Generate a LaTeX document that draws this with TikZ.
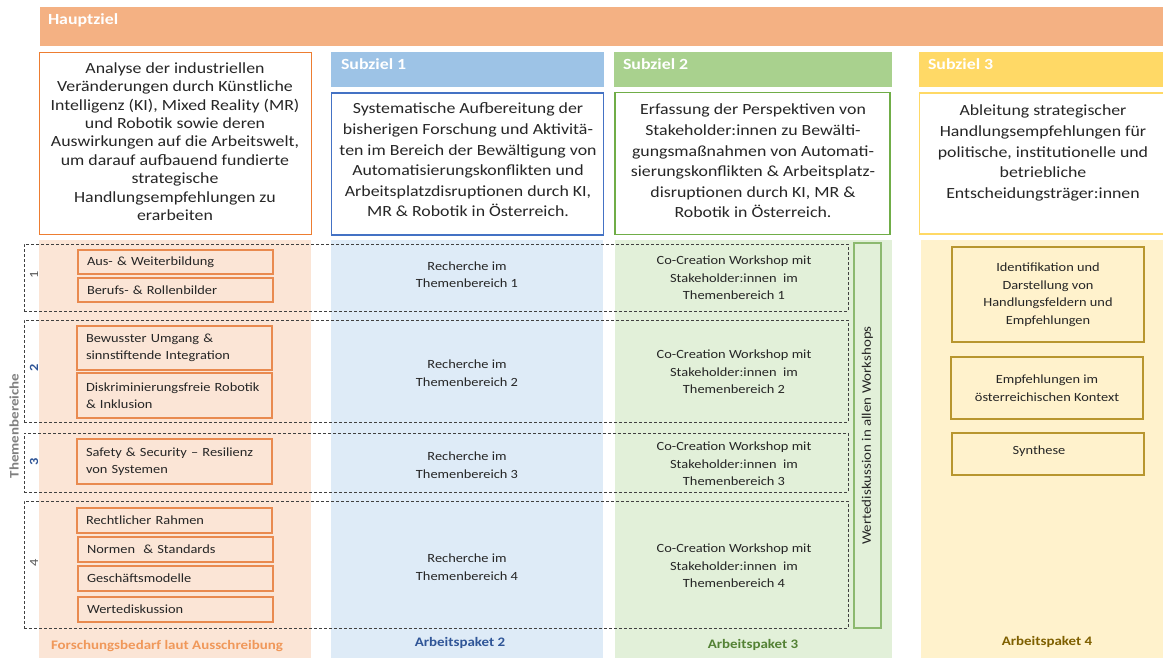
\documentclass[tikz,border=0pt]{standalone}
\usepackage{fontspec}
\setmainfont{Carlito}[FakeStretch=1.15]
\definecolor{hauptbar}{HTML}{F4B183}
\definecolor{orangeborder}{HTML}{ED7D31}
\definecolor{itemborder}{HTML}{E98A4F}
\definecolor{orangebg}{HTML}{FBE5D6}
\definecolor{sonehead}{HTML}{9DC3E6}
\definecolor{soneborder}{HTML}{4472C4}
\definecolor{bluebg}{HTML}{DEEBF7}
\definecolor{stwohead}{HTML}{A9D18E}
\definecolor{stwoborder}{HTML}{70AD47}
\definecolor{greenbg}{HTML}{E2F0D9}
\definecolor{wgreen}{HTML}{8CB96F}
\definecolor{sthreehead}{HTML}{FFD966}
\definecolor{sthreeborder}{HTML}{FFD966}
\definecolor{yellowbg}{HTML}{FFF2CC}
\definecolor{goldborder}{HTML}{B8962E}
\definecolor{txt}{HTML}{262626}
\definecolor{numblue}{HTML}{2F5597}
\definecolor{numgray}{HTML}{595959}
\definecolor{thgray}{HTML}{7F7F7F}
\definecolor{apone}{HTML}{F0985A}
\definecolor{aptwo}{HTML}{2F5597}
\definecolor{apthree}{HTML}{548235}
\definecolor{apfour}{HTML}{7F6000}
\definecolor{dashcol}{HTML}{404040}
\begin{document}
\begin{tikzpicture}[x=1pt,y=-1pt,
  every node/.style={inner sep=0pt, outer sep=0pt, text=txt},
  bigtxt/.style={font=\fontsize{15.5}{20.6}\selectfont, align=center},
  hztxt/.style={font=\fontsize{15.5}{18.4}\selectfont, align=center},
  smalltxt/.style={font=\fontsize{12.5}{17.5}\selectfont, align=center},
  headtxt/.style={font=\fontsize{15.5}{17}\selectfont\bfseries, text=white, anchor=west},
  aptxt/.style={font=\fontsize{13}{16}\selectfont\bfseries},
  headbar/.style={fill=#1, anchor=north west},
  goalbox/.style={draw=#1, line width=1.8pt, fill=white, anchor=north west},
  colbg/.style={fill=#1, anchor=north west},
  rowbox/.style={draw=dashcol, line width=0.9pt, dash pattern=on 3pt off 2pt, anchor=north west, minimum width=824pt},
  itembox/.style={draw=itemborder, line width=1.2pt, fill=orangebg, anchor=north west,
     minimum width=195pt, text width=177pt, inner xsep=9pt, align=left,
     font=\fontsize{12.5}{17.5}\selectfont},
  goldbox/.style={draw=goldborder, line width=1.2pt, anchor=north west, minimum width=192pt,
     align=center, font=\fontsize{12.5}{17.5}\selectfont},
  numlbl/.style={rotate=90, font=\fontsize{12.5}{15}\selectfont},
]
\useasboundingbox (0,0) rectangle (1163,657);
\fill[white] (0,0) rectangle (1163,657);

% Hauptziel bar
\node[headbar=hauptbar, minimum width=1123pt, minimum height=39pt] (hbar) at (40,7) {};
\node[headtxt] (hlabel) at (48,20) {Hauptziel};

% Subziel headers
\node[headbar=sonehead, minimum width=273pt, minimum height=35pt] (s1bar) at (331,52) {};
\node[headtxt] (s1label) at (341,64) {Subziel 1};
\node[headbar=stwohead, minimum width=278pt, minimum height=35pt] (s2bar) at (614,52) {};
\node[headtxt] (s2label) at (623,64) {Subziel 2};
\node[headbar=sthreehead, minimum width=250pt, minimum height=35pt] (s3bar) at (919,52) {};
\node[headtxt] (s3label) at (928,64) {Subziel 3};

% Goal boxes
\node[goalbox=orangeborder, minimum width=272pt, minimum height=182pt] (hzbox) at (39.5,52.5) {};
\node[hztxt] (hztext) at (175,141.5) {Analyse der industriellen\\Veränderungen durch Künstliche\\Intelligenz (KI), Mixed Reality (MR)\\und Robotik sowie deren\\Auswirkungen auf die Arbeitswelt,\\um darauf aufbauend fundierte\\strategische\\Handlungsempfehlungen zu\\erarbeiten};

\node[goalbox=soneborder, minimum width=272pt, minimum height=142pt] (s1box) at (331.5,93) {};
\node[bigtxt] (s1text) at (468,160) {Systematische Aufbereitung der\\bisherigen Forschung und Aktivitä-\\ten im Bereich der Bewältigung von\\Automatisierungskonflikten und\\Arbeitsplatzdisruptionen durch KI,\\MR \& Robotik in Österreich.};

\node[goalbox=stwoborder, minimum width=275pt, minimum height=142pt] (s2box) at (615,92.5) {};
\node[bigtxt] (s2text) at (753,161) {Erfassung der Perspektiven von\\Stakeholder:innen zu Bewälti-\\gungsmaßnahmen von Automati-\\sierungskonflikten \& Arbeitsplatz-\\disruptionen durch KI, MR \&\\Robotik in Österreich.};

\node[goalbox=sthreeborder, minimum width=250pt, minimum height=141pt] (s3box) at (919.5,93) {};
\node[bigtxt] (s3text) at (1043,153) {Ableitung strategischer\\Handlungsempfehlungen für\\politische, institutionelle und\\betriebliche\\Entscheidungsträger:innen};

% Column backgrounds
\node[colbg=orangebg, minimum width=272pt, minimum height=418pt] (col1) at (39,240) {};
\node[colbg=bluebg, minimum width=272pt, minimum height=418pt] (col2) at (331,240) {};
\node[colbg=greenbg, minimum width=277pt, minimum height=418pt] (col3) at (615,240) {};
\node[colbg=yellowbg, minimum width=242pt, minimum height=418pt] (col4) at (921,240) {};

% Themenbereich rows (dashed)
\node[rowbox, minimum height=67pt] (row1) at (24,244) {};
\node[rowbox, minimum height=102pt] (row2) at (24,320) {};
\node[rowbox, minimum height=59pt] (row3) at (24,433) {};
\node[rowbox, minimum height=127pt] (row4) at (24,501) {};

% Row numbers and axis label
\node[numlbl, text=numgray] (n1) at (34,275) {1};
\node[numlbl, text=numblue, font=\fontsize{12.5}{15}\selectfont\bfseries] (n2) at (34,368) {2};
\node[numlbl, text=numblue, font=\fontsize{12.5}{15}\selectfont\bfseries] (n3) at (34,462) {3};
\node[numlbl, text=numgray] (n4) at (34,563) {4};
\node[rotate=90, text=thgray, font=\fontsize{13}{15}\selectfont\bfseries] (thlabel) at (14,426) {Themenbereiche};

% Forschungsbedarf items
\node[itembox, minimum height=24pt] (i1) at (78,250) {Aus- \& Weiterbildung};
\node[itembox, minimum height=24pt] (i2) at (78,278) {Berufs- \& Rollenbilder};
\node[itembox, minimum height=44pt] (i3) at (77,326) {Bewusster Umgang \&\\sinnstiftende Integration};
\node[itembox, minimum height=45pt] (i4) at (77,373) {Diskriminierungsfreie Robotik\\\& Inklusion};
\node[itembox, minimum height=45pt] (i5) at (77,439) {Safety \& Security – Resilienz\\von Systemen};
\node[itembox, minimum height=25pt] (i6) at (77,508) {Rechtlicher Rahmen};
\node[itembox, minimum height=25pt] (i7) at (78,537) {Normen~ \& Standards};
\node[itembox, minimum height=25pt] (i8) at (78,566) {Geschäftsmodelle};
\node[itembox, minimum height=25pt] (i9) at (78,597) {Wertediskussion};

% Recherche (AP2)
\node[smalltxt] (r1) at (467,274.5) {Recherche im\\Themenbereich 1};
\node[smalltxt] (r2) at (467,373) {Recherche im\\Themenbereich 2};
\node[smalltxt] (r3) at (467,465) {Recherche im\\Themenbereich 3};
\node[smalltxt] (r4) at (467,567) {Recherche im\\Themenbereich 4};

% Workshops (AP3)
\node[smalltxt] (w1) at (734,278) {Co-Creation Workshop mit\\Stakeholder:innen~ im\\Themenbereich 1};
\node[smalltxt] (w2) at (734,372) {Co-Creation Workshop mit\\Stakeholder:innen~ im\\Themenbereich 2};
\node[smalltxt] (w3) at (734,464) {Co-Creation Workshop mit\\Stakeholder:innen~ im\\Themenbereich 3};
\node[smalltxt] (w4) at (734,566) {Co-Creation Workshop mit\\Stakeholder:innen~ im\\Themenbereich 4};

\node[draw=wgreen, line width=1.2pt, anchor=north west, minimum width=27pt, minimum height=385pt] (wd) at (854,243) {};
\node[rotate=90, font=\fontsize{13}{16}\selectfont] (wdtext) at (wd.center) {Wertediskussion in allen Workshops};

% AP4 boxes
\node[goldbox, minimum height=95pt] (y1) at (952,247) {Identifikation und\\Darstellung von\\Handlungsfeldern und\\Empfehlungen};
\node[goldbox, minimum height=62pt] (y2) at (951,357) {Empfehlungen im\\österreichischen Kontext};
\node[goldbox, minimum height=42pt] (y3) at (952,433) {};
\node[smalltxt] (y3text) at (1039,451) {Synthese};

% Arbeitspaket labels
\node[aptxt, text=apone] (ap1) at (167,646) {Forschungsbedarf laut Ausschreibung};
\node[aptxt, text=aptwo] (ap2) at (460,643) {Arbeitspaket 2};
\node[aptxt, text=apthree] (ap3) at (753,645) {Arbeitspaket 3};
\node[aptxt, text=apfour] (ap4) at (1047,642) {Arbeitspaket 4};
\end{tikzpicture}
\end{document}
